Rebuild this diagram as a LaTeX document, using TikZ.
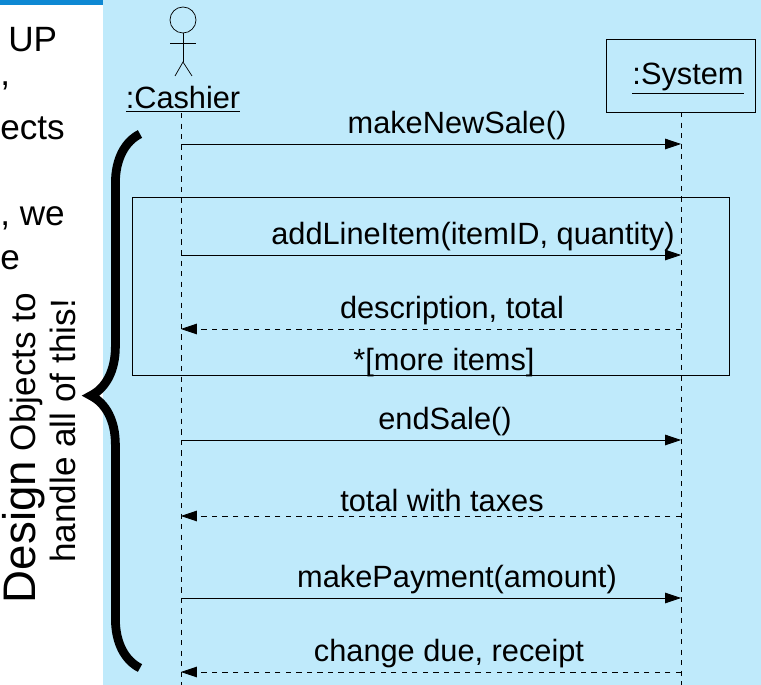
\documentclass[tikz,border=0pt]{standalone}
\usepackage{fontspec}
\setmainfont{Liberation Sans}
\usetikzlibrary{arrows.meta,decorations.pathreplacing}

\begin{document}
\begin{tikzpicture}[x=0.02cm,y=-0.02cm,
	msg/.style={draw, -{Triangle[length=9pt,width=6pt]}},
	ret/.style={draw, dashed, -{Triangle[length=9pt,width=6pt]}},
	lbl/.style={font=\fontsize{17.5}{20}\selectfont, inner sep=1pt},
	side/.style={font=\fontsize{20}{24}\selectfont, anchor=west, inner sep=0pt}]
				\useasboundingbox (0,0) rectangle (761,685);
				\fill[cyan!25] (103,0) rectangle (761,685);
				\fill[cyan!70!blue] (0,0) rectangle (103,5);
				
				% cut-off slide text
				\node[side] (t1) at (8,40) {UP};
				\node[side] (t2) at (0,86) {,};
				\node[side] (t3) at (0,128) {ects};
				\node[side] (t4) at (0,218) {, we};
				\node[side] (t5) at (0,260) {e};
				
				% actor
				\draw (183,20) circle (13);
				\draw (183,33) -- (183,62);
				\draw (170,43) -- (196,43);
				\draw (175,76) -- (183,62) -- (192,76);
				\node (cashier) [lbl] at (183,99) {\underline{:Cashier}};
				\node (system) [draw, rectangle, minimum width=149*0.02cm, minimum height=73*0.02cm, anchor=north west, inner sep=0pt] at (606,39) {};
				\node (systxt) [lbl] at (688,79) {\underline{:System}};
				
				% lifelines
				\coordinate (c0) at (181,113);
				\coordinate (c1) at (181,685);
				\coordinate (s0) at (681,112);
				\coordinate (s1) at (681,685);
				\draw[dashed] (c0) -- (c1);
				\draw[dashed] (s0) -- (s1);
				
				% loop frame
				\node (loop) [draw, rectangle, minimum width=597*0.02cm, minimum height=178*0.02cm, anchor=north west, inner sep=0pt] at (132,197) {};
				\node (more) [lbl] at (444,363) {*[more items]};
				
				% Arrows
				\foreach \y/\x/\txt in {144/457/makeNewSale(), 255/473/{addLineItem(itemID, quantity)}, 329/452/{description, total}, 440/445/endSale(), 516/442/total with taxes, 598/457/makePayment(amount), 672/449/{change due, receipt}} {
					\coordinate (a\y) at (181,\y);
					\coordinate (b\y) at (681,\y);
					\node (l\y) [lbl, above] at (\x,\y-2) {\txt};
				}
				\draw[msg] (a144) -- (b144);
				\draw[msg] (a255) -- (b255);
				\draw[ret] (b329) -- (a329);
				\draw[msg] (a440) -- (b440);
				\draw[ret] (b516) -- (a516);
				\draw[msg] (a598) -- (b598);
				\draw[ret] (b672) -- (a672);
				
				% brace
				\coordinate (br0) at (140,668);
				\coordinate (br1) at (140,134);
				\draw[line width=5pt, decorate, decoration={brace, amplitude=28pt, aspect=0.51}] (br0) -- (br1);
				\node (note1) [rotate=90, font=\fontsize{20}{24}\selectfont] at (24,448) {{\fontsize{26}{28}\selectfont Design} Objects to};
				\node (note2) [rotate=90, font=\fontsize{20}{24}\selectfont] at (63,431) {handle all of this!};
			\end{tikzpicture}
\end{document}
